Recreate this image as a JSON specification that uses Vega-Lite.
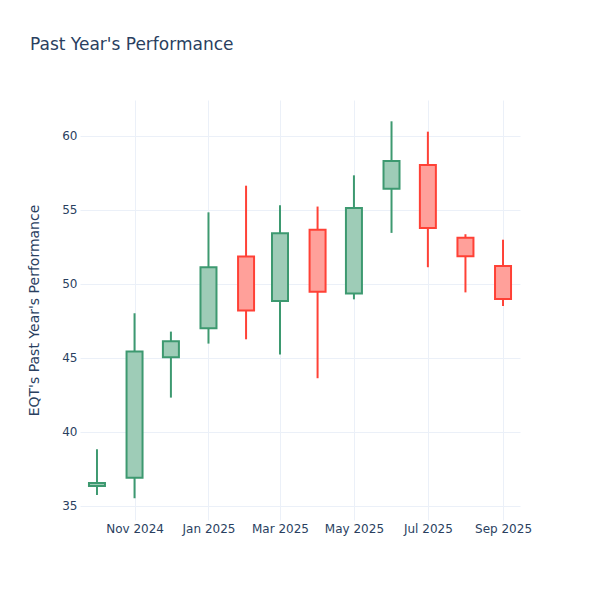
{
  "$schema": "https://vega.github.io/schema/vega-lite/v6.json",
  "width": 440,
  "height": 420,
  "autosize": {"type": "none"},
  "padding": {"left": 80, "top": 100, "right": 80, "bottom": 80},
  "background": "white",
  "config": {
    "font": "DejaVu Sans",
    "view": {"stroke": null},
    "axis": {
      "domain": false,
      "ticks": false,
      "gridColor": "#EBF0F8",
      "gridWidth": 1,
      "labelColor": "#2a3f5f",
      "labelFontSize": 12,
      "titleColor": "#2a3f5f",
      "titleFontSize": 14,
      "titleFontWeight": "normal",
      "labelFont": "DejaVu Sans",
      "titleFont": "DejaVu Sans"
    }
  },
  "title": {
    "text": "Past Year's Performance",
    "anchor": "start",
    "frame": "group",
    "fontSize": 17,
    "fontWeight": "normal",
    "color": "#2a3f5f",
    "font": "DejaVu Sans",
    "dx": -50,
    "offset": 46
  },
  "data": {
    "values": [
      {"date": "2024-10-01", "open": 36.35, "high": 38.83, "low": 35.74, "close": 36.55},
      {"date": "2024-11-01", "open": 36.9, "high": 48.02, "low": 35.52, "close": 45.43},
      {"date": "2024-12-01", "open": 45.05, "high": 46.78, "low": 42.32, "close": 46.13},
      {"date": "2025-01-01", "open": 47.0, "high": 54.84, "low": 45.97, "close": 51.13},
      {"date": "2025-02-01", "open": 51.85, "high": 56.64, "low": 46.26, "close": 48.2},
      {"date": "2025-03-01", "open": 48.85, "high": 55.32, "low": 45.23, "close": 53.42},
      {"date": "2025-04-01", "open": 53.67, "high": 55.23, "low": 43.63, "close": 49.48},
      {"date": "2025-05-01", "open": 49.35, "high": 57.34, "low": 48.96, "close": 55.14},
      {"date": "2025-06-01", "open": 56.44, "high": 60.99, "low": 53.45, "close": 58.31},
      {"date": "2025-07-01", "open": 58.04, "high": 60.29, "low": 51.13, "close": 53.78},
      {"date": "2025-08-01", "open": 53.13, "high": 53.36, "low": 49.43, "close": 51.87},
      {"date": "2025-09-01", "open": 51.22, "high": 52.99, "low": 48.51, "close": 48.99}
    ]
  },
  "encoding": {
    "x": {
      "field": "date",
      "type": "temporal",
      "scale": {
        "type": "utc",
        "padding": 0,
        "domain": [
          {"year": 2024, "month": 9, "date": 17, "utc": true},
          {"year": 2025, "month": 9, "date": 15, "utc": true}
        ]
      },
      "axis": {
        "title": null,
        "labelExpr": "utcFormat(datum.value, '%b %Y')",
        "labelPadding": 3,
        "values": [
          {"year": 2024, "month": 11, "date": 1, "utc": true},
          {"year": 2025, "month": 1, "date": 1, "utc": true},
          {"year": 2025, "month": 3, "date": 1, "utc": true},
          {"year": 2025, "month": 5, "date": 1, "utc": true},
          {"year": 2025, "month": 7, "date": 1, "utc": true},
          {"year": 2025, "month": 9, "date": 1, "utc": true}
        ]
      }
    }
  },
  "layer": [
    {
      "mark": {"type": "rule", "strokeWidth": 2},
      "encoding": {
        "y": {
          "field": "low",
          "type": "quantitative",
          "scale": {"domain": [34.05, 62.43], "nice": false, "zero": false},
          "axis": {
            "title": "EQT's Past Year's Performance",
            "values": [35, 40, 45, 50, 55, 60],
            "labelPadding": 3,
            "titlePadding": 20
          }
        },
        "y2": {"field": "high"},
        "color": {
          "condition": {"test": "datum.close >= datum.open", "value": "#3D9970"},
          "value": "#FF4136"
        }
      }
    },
    {
      "mark": {"type": "bar", "size": 16, "fill": "white", "strokeWidth": 0},
      "encoding": {
        "y": {"field": "open", "type": "quantitative"},
        "y2": {"field": "close"}
      }
    },
    {
      "mark": {"type": "bar", "size": 16, "strokeWidth": 2, "fillOpacity": 0.5},
      "encoding": {
        "y": {"field": "open", "type": "quantitative"},
        "y2": {"field": "close"},
        "fill": {
          "condition": {"test": "datum.close >= datum.open", "value": "#3D9970"},
          "value": "#FF4136"
        },
        "stroke": {
          "condition": {"test": "datum.close >= datum.open", "value": "#3D9970"},
          "value": "#FF4136"
        }
      }
    }
  ]
}
